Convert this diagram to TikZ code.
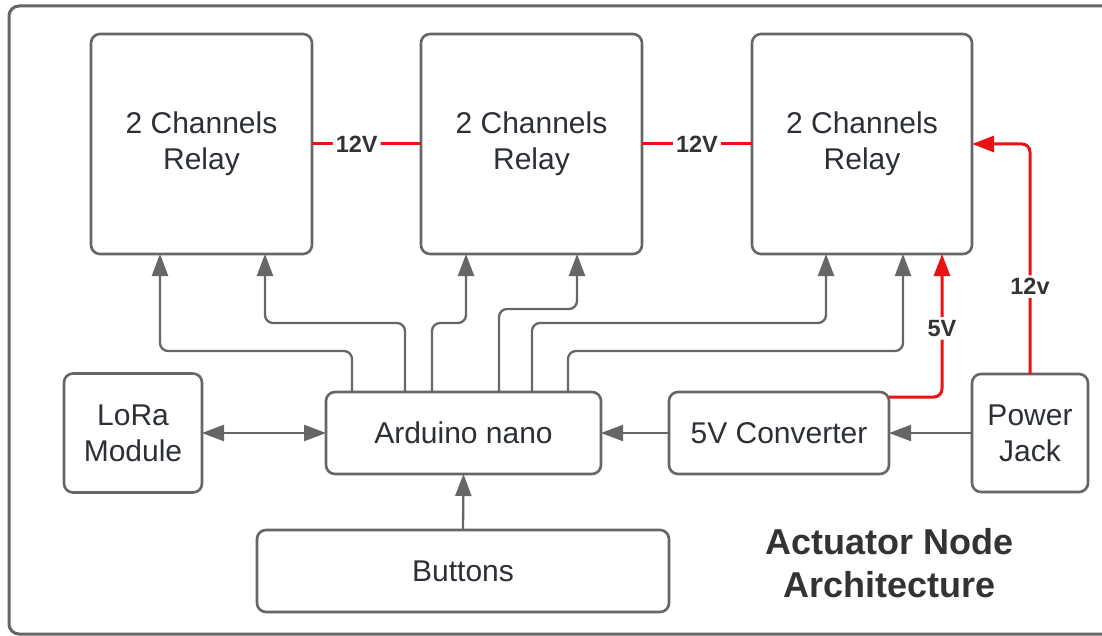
\documentclass[tikz,border=0pt]{standalone}
\usepackage{fontspec}
\setmainfont{Liberation Sans}
\usetikzlibrary{arrows.meta}
\definecolor{edge}{HTML}{666666}
\definecolor{ink}{HTML}{2B2F36}
\definecolor{wire}{HTML}{E81313}
\definecolor{titleink}{HTML}{333333}

\begin{document}
\begin{tikzpicture}[x=1pt,y=-1pt,
  box/.style={draw=edge, line width=2.6pt, rounded corners=9pt, fill=white,
    outer sep=0pt, inner sep=0pt, text=ink, align=center,
    font=\fontsize{30}{36}\selectfont},
  tip/.style={-{Triangle[length=22pt,width=16pt]}},
  conn/.style={draw=edge, line width=2.3pt, rounded corners=8pt, tip},
  pwr/.style={draw=wire, line width=3pt, rounded corners=8pt},
  vlabel/.style={fill=white, text=titleink, inner sep=3pt,
    font=\fontsize{23.5}{23.5}\selectfont\bfseries}
]
\useasboundingbox (0,0) rectangle (1102,636);

% outer frame (runs past the right edge of the page)
\begin{scope}
  \clip (0,0) rectangle (1102,636);
  \draw[edge, line width=3pt, rounded corners=10pt] (9,6) rectangle (1140,634);
\end{scope}

% relay boards
\node[box, minimum width=221pt, minimum height=220pt] (r1) at (201.5,144) {2 Channels\\Relay};
\node[box, minimum width=221pt, minimum height=220pt] (r2) at (531.5,144) {2 Channels\\Relay};
\node[box, minimum width=220pt, minimum height=220pt] (r3) at (862,144) {2 Channels\\Relay};

% middle row
\node[box, minimum width=138pt, minimum height=119pt] (lora) at (133,433) {LoRa\\Module};
\node[box, minimum width=275pt, minimum height=82pt] (ard) at (463.5,433) {Arduino nano};
\node[box, minimum width=220pt, minimum height=82pt] (conv) at (779,433) {5V Converter};
\node[box, minimum width=116pt, minimum height=118pt] (jack) at (1030,433) {Power\\Jack};

% bottom
\node[box, minimum width=412pt, minimum height=82pt] (btn) at (463,571) {Buttons};

\node[text=titleink, align=center, font=\fontsize{36}{43}\selectfont\bfseries] (title) at (889.5,563)
  {Actuator Node\\Architecture};

% 12V chain between relay boards
\draw[pwr] (r1.east) -- node[vlabel, pos=0.41] {12V} (r2.west);
\draw[pwr] (r2.east) -- node[vlabel] {12V} (r3.west);

% supply wiring
\draw[pwr, tip] ([yshift=-5pt]conv.north east) -| node[vlabel, pos=0.74] {5V} ([xshift=80pt]r3.south);
\draw[pwr, tip] (jack.north) |- node[vlabel, pos=0.19] {12v} (r3.east);

% control lines from the Arduino to the relay inputs
\draw[conn] ([xshift=26pt]ard.north west)  -- ++(0,-41) -| ([xshift=-41.5pt]r1.south);
\draw[conn] ([xshift=79pt]ard.north west)  -- ++(0,-69) -| ([xshift=63.5pt]r1.south);
\draw[conn] ([xshift=106pt]ard.north west) -- ++(0,-69) -| ([xshift=-65.5pt]r2.south);
\draw[conn] ([xshift=173pt]ard.north west) -- ++(0,-83) -| ([xshift=45.5pt]r2.south);
\draw[conn] ([xshift=206pt]ard.north west) -- ++(0,-69) -| ([xshift=-36pt]r3.south);
\draw[conn] ([xshift=242pt]ard.north west) -- ++(0,-41) -| ([xshift=41pt]r3.south);

% middle row links
\draw[conn, {Triangle[length=22pt,width=16pt]}-{Triangle[length=22pt,width=16pt]}] (lora.east) -- (ard.west);
\draw[conn] (conv.west) -- (ard.east);
\draw[conn] (jack.west) -- (conv.east);
\draw[conn] (btn.north) -- (ard.south);
\end{tikzpicture}
\end{document}
